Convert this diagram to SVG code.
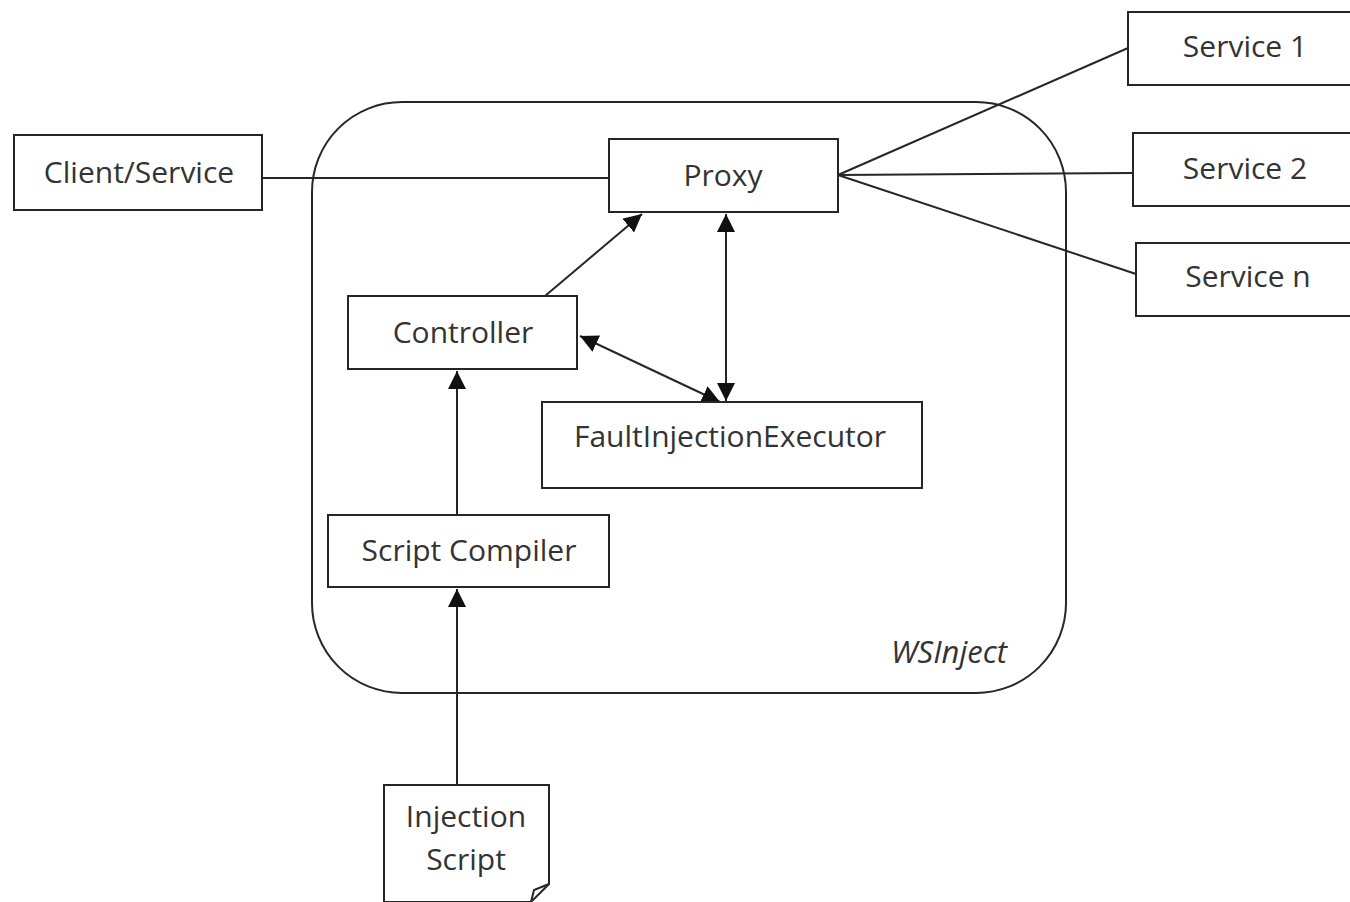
<svg xmlns="http://www.w3.org/2000/svg" width="1350" height="902" viewBox="0 0 1350 902">
  <style>
    .box { fill: #ffffff; stroke: #262626; stroke-width: 2; }
    .edge { fill: none; stroke: #262626; stroke-width: 2; }
    .lbl { font-family: "Open Sans", "Liberation Sans", sans-serif; font-size: 30px; fill: #333333; text-anchor: middle; }
  </style>
  <defs>
    <marker id="arrB" viewBox="0 0 10 10" refX="10" refY="5" markerWidth="18" markerHeight="18" markerUnits="userSpaceOnUse" orient="auto-start-reverse">
      <path d="M0,0 L10,5 L0,10 Z" fill="#111111"/>
    </marker>
  </defs>
  <rect width="1350" height="902" fill="#ffffff"/>

  <!-- WSInject container -->
  <g id="wsinject">
    <rect x="312" y="102" width="754" height="591" rx="90" ry="90" class="edge"/>
    <text x="949" y="663" font-family="'Open Sans', 'Liberation Sans', sans-serif" font-size="31" font-style="italic" fill="#333333" text-anchor="middle">WSInject</text>
  </g>

  <!-- connectors -->
  <g id="connectors">
    <line x1="262" y1="178" x2="609" y2="178" class="edge"/>
    <line x1="838" y1="175" x2="1128" y2="48" class="edge"/>
    <line x1="838" y1="175" x2="1133" y2="173" class="edge"/>
    <line x1="838" y1="175" x2="1136" y2="274" class="edge"/>
    <line x1="545" y1="296" x2="642" y2="214" class="edge" marker-end="url(#arrB)"/>
    <line x1="726" y1="214" x2="726" y2="401" class="edge" marker-start="url(#arrB)" marker-end="url(#arrB)"/>
    <line x1="580" y1="336" x2="720" y2="402" class="edge" marker-start="url(#arrB)" marker-end="url(#arrB)"/>
    <line x1="457" y1="515" x2="457" y2="371" class="edge" marker-end="url(#arrB)"/>
    <line x1="457" y1="785" x2="457" y2="589" class="edge" marker-end="url(#arrB)"/>
  </g>

  <g id="client-service">
    <rect x="14" y="135" width="248" height="75" class="box"/>
    <text x="139" y="183" class="lbl">Client/Service</text>
  </g>
  <g id="proxy">
    <rect x="609" y="139" width="229" height="73" class="box"/>
    <text x="723" y="186" class="lbl">Proxy</text>
  </g>
  <g id="service-1">
    <rect x="1128" y="12" width="230" height="73" class="box"/>
    <text x="1245" y="57" class="lbl">Service 1</text>
  </g>
  <g id="service-2">
    <rect x="1133" y="133" width="225" height="73" class="box"/>
    <text x="1245" y="179" class="lbl">Service 2</text>
  </g>
  <g id="service-n">
    <rect x="1136" y="243" width="222" height="73" class="box"/>
    <text x="1248" y="287" class="lbl">Service n</text>
  </g>
  <g id="controller">
    <rect x="348" y="296" width="229" height="73" class="box"/>
    <text x="463" y="343" class="lbl">Controller</text>
  </g>
  <g id="fault-injection-executor">
    <rect x="542" y="402" width="380" height="86" class="box"/>
    <text x="730" y="447" class="lbl">FaultInjectionExecutor</text>
  </g>
  <g id="script-compiler">
    <rect x="328" y="515" width="281" height="72" class="box"/>
    <text x="469" y="561" class="lbl">Script Compiler</text>
  </g>
  <g id="injection-script">
    <path d="M384,785 L549,785 L549,884 L531,902 L384,902 Z" class="box"/>
    <path d="M531,902 L534,890 L549,884" class="edge" stroke-width="1.5"/>
    <text x="466" y="827" class="lbl">Injection</text>
    <text x="466" y="870" class="lbl">Script</text>
  </g>
</svg>
